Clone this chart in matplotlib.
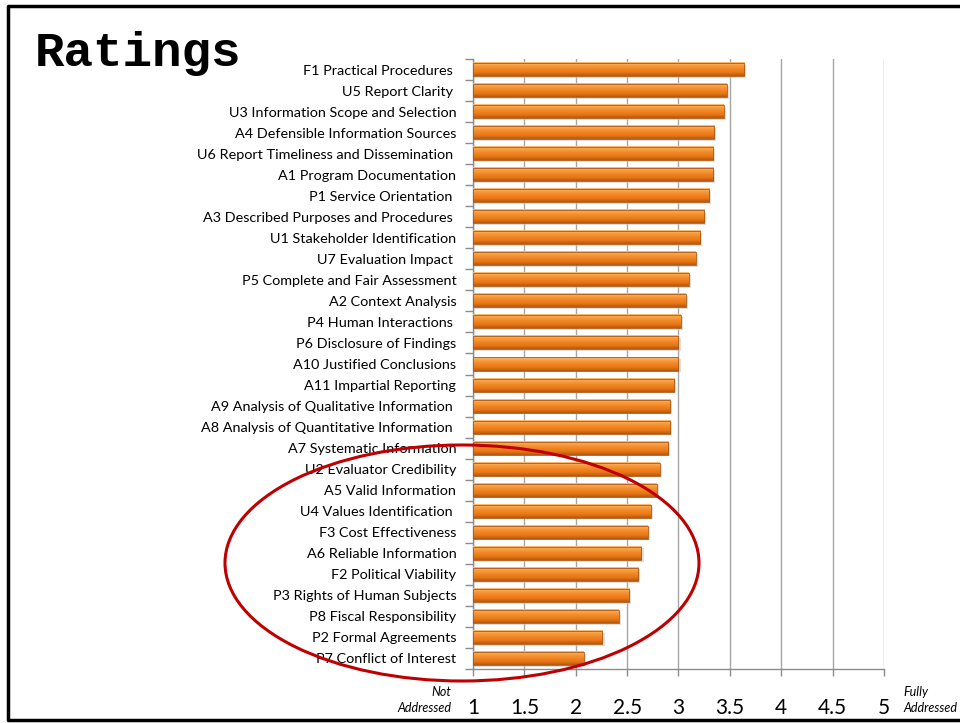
import numpy as np
import matplotlib
matplotlib.use("Agg")
import matplotlib.pyplot as plt
from matplotlib.patches import Ellipse, Rectangle
from matplotlib.colors import LinearSegmentedColormap

# Standards, top to bottom as shown on the slide
labels = [
    "F1 Practical Procedures ", "U5 Report Clarity ", "U3 Information Scope and Selection",
    "A4 Defensible Information Sources", "U6 Report Timeliness and Dissemination ",
    "A1 Program Documentation", "P1 Service Orientation ", "A3 Described Purposes and Procedures ",
    "U1 Stakeholder Identification", "U7 Evaluation Impact ", "P5 Complete and Fair Assessment",
    "A2 Context Analysis", "P4 Human Interactions ", "P6 Disclosure of Findings",
    "A10 Justified Conclusions", "A11 Impartial Reporting", "A9 Analysis of Qualitative Information ",
    "A8 Analysis of Quantitative Information ", "A7 Systematic Information", "U2 Evaluator Credibility",
    "A5 Valid Information", "U4 Values Identification ", "F3 Cost Effectiveness",
    "A6 Reliable Information", "F2 Political Viability", "P3 Rights of Human Subjects",
    "P8 Fiscal Responsibility", "P2 Formal Agreements", "P7 Conflict of Interest",
]
ratings = [
    3.64, 3.47, 3.44, 3.35, 3.34, 3.34, 3.30, 3.25, 3.21, 3.17, 3.10,
    3.07, 3.02, 3.00, 3.00, 2.96, 2.92, 2.92, 2.90, 2.82, 2.79, 2.73,
    2.70, 2.64, 2.61, 2.52, 2.42, 2.26, 2.08,
]
xticks = [1, 1.5, 2, 2.5, 3, 3.5, 4, 4.5, 5]
xtick_labels = ["1", "1.5", "2", "2.5", "3", "3.5", "4", "4.5", "5"]

plt.rcParams["font.family"] = ["Lato", "DejaVu Sans"]

fig = plt.figure(figsize=(9.6, 7.23), dpi=100)
ax = fig.add_axes([0.4927, 0.0747, 0.4281, 0.8437])

n = len(labels)
ypos = np.arange(n)
bar_h = 0.62

# orange bar with a light top and darker bottom
orange = LinearSegmentedColormap.from_list(
    "orange", ["#fbbd74", "#f79c40", "#f08624", "#e87614", "#b35810"])
grad = np.linspace(0, 1, 64).reshape(-1, 1)

for y, v in zip(ypos, ratings):
    # soft shadow
    ax.add_patch(Rectangle((1, y - bar_h / 2 + 0.08), v - 1 + 0.02, bar_h,
                           facecolor="#c8c8c8", edgecolor="none", alpha=0.6, zorder=2))
    ax.imshow(grad, cmap=orange, aspect="auto", zorder=3,
              extent=(1, v, y + bar_h / 2, y - bar_h / 2))
    ax.add_patch(Rectangle((1, y - bar_h / 2), v - 1, bar_h,
                           facecolor="none", edgecolor="#b3570f", linewidth=0.6, zorder=4))

ax.set_xlim(1, 5.0)
ax.set_ylim(n - 0.5, -0.5)
ax.set_xticks(xticks)
ax.set_xticklabels(xtick_labels, fontsize=15)
ax.set_yticks(ypos)
ax.set_yticklabels(labels, fontsize=10.4)
ax.set_yticks(np.arange(-0.5, n, 1), minor=True)
ax.tick_params(axis="y", which="major", length=0, pad=12)
ax.tick_params(axis="y", which="minor", length=6, color="#8c8c8c", width=1)
ax.tick_params(axis="x", which="major", length=5, color="#8c8c8c", width=1, pad=16)

ax.grid(axis="x", color="#a6a6a6", linewidth=1)
ax.set_axisbelow(True)
for s in ["top", "right"]:
    ax.spines[s].set_visible(False)
for s in ["left", "bottom"]:
    ax.spines[s].set_color("#8c8c8c")
    ax.spines[s].set_linewidth(1)

# end-of-scale captions
fig.text(451 / 960, 1 - 700 / 723, "Not\nAddressed", ha="right", va="center",
         fontsize=9, style="italic", linespacing=1.4)
fig.text(903 / 960, 1 - 700 / 723, "Fully\nAddressed", ha="left", va="center",
         fontsize=9, style="italic", linespacing=1.4)

# slide title
fig.text(35 / 960, 1 - 54 / 723, "Ratings", fontsize=35.5, fontweight="bold",
         family="Liberation Mono", ha="left", va="center")

# red ellipse around the lowest ratings
fig.patches.append(Ellipse((462 / 960, 1 - 563 / 723), 474 / 960, 236 / 723,
                           transform=fig.transFigure, facecolor="none",
                           edgecolor="#c00000", linewidth=2.2, zorder=10))

# slide frame (open on the right)
fig.add_artist(plt.Line2D([1.0, 8 / 960, 8 / 960, 1.0],
                          [1 - 6 / 723, 1 - 6 / 723, 1 - 720 / 723, 1 - 720 / 723],
                          transform=fig.transFigure, color="black", linewidth=2.5))

fig.savefig("out.png", dpi=100, facecolor="white")
